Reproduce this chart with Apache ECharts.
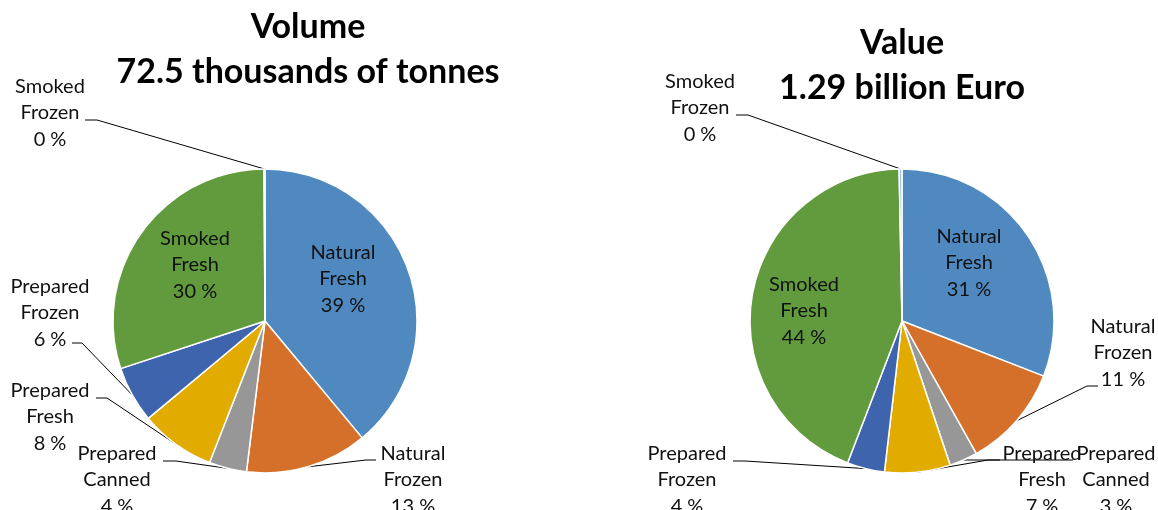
<!DOCTYPE html>
<html>
<head>
<meta charset="utf-8">
<script src="https://cdn.jsdelivr.net/npm/echarts@6/dist/echarts.min.js"></script>
<style>
html,body{margin:0;padding:0;background:#fff;}
#chart{width:1158px;height:510px;}
</style>
</head>
<body>
<div id="chart"></div>
<script>
// ---- data ----
const categories = ['Natural Fresh','Natural Frozen','Prepared Canned','Prepared Fresh','Prepared Frozen','Smoked Fresh','Smoked Frozen'];
const volumeValues = [39, 13, 4, 8, 6, 30, 0.1];
const valueValues = [31, 11, 3, 7, 4, 44, 0.3];
const volumeTitle = ['Volume', '72.5 thousands of tonnes'];
const valueTitle = ['Value', '1.29 billion Euro'];
const insideCategories = ['Natural Fresh', 'Smoked Fresh'];

// ---- styling / layout ----
const colors = ['#4F89BF','#D5702B','#979797','#E2AB00','#3E64AE','#629B3E','#9DC3E6'];
const FONT = 'Lato, "Open Sans", sans-serif';
// label centres
const volumeLabelPos = [[343,279],[413,480],[117,480],[50,417],[50,313],[195,265],[50,113]];
const valueLabelPos = [[969,263],[1123,353],[1116,480],[1042,480],[687,480],[804,311],[700,108]];
// leader-line anchor offsets relative to label centre [dx, dy, elbow]
const volumeAnchors = [null,[-37,-20,-10],[46,-19,13],[46,-19,11],[22,30,10],null,[35,7,12]];
const valueAnchors = [null,[-25,33,-11],[-43,-20,-12],[-42,-20,-12],[46,-19,12],null,[36,7,12]];

function buildData(values){
  return categories.map((c,i)=>{
    const inside = insideCategories.indexOf(c) >= 0;
    return {
      name: c,
      value: values[i],
      itemStyle: {color: colors[i]},
      label: {position: inside ? 'inside' : 'outside'},
      labelLine: {show: !inside}
    };
  });
}

function makeSeries(values, center, labelPos, anchors){
  return {
    type: 'pie',
    center: center,
    radius: 152,
    startAngle: 90,
    clockwise: true,
    percentPrecision: 0,
    avoidLabelOverlap: false,
    animation: false,
    itemStyle: {borderColor:'#fff', borderWidth:1.5},
    label: {
      show: true,
      color: '#111',
      fontFamily: FONT,
      fontSize: 20,
      lineHeight: 26.5,
      align: 'center',
      formatter: p => p.name.replace(' ', '\n') + '\n' + p.percent + ' %'
    },
    labelLine: {show:true, length: 12, length2: 12, lineStyle:{color:'#000', width:1}},
    labelLayout: function(params){
      const i = params.dataIndex;
      const pos = labelPos[i];
      const out = {x: pos[0], y: pos[1], align:'center', verticalAlign:'middle'};
      const a = anchors[i];
      const pts = params.labelLinePoints;
      if (a && pts && pts.length) {
        const start = pts[0];
        const ax = pos[0] + a[0], ay = pos[1] + a[1];
        out.labelLinePoints = [[start[0], start[1]], [ax + a[2], ay], [ax, ay]];
      }
      return out;
    },
    emphasis: {disabled: true},
    data: buildData(values)
  };
}

const chart = echarts.init(document.getElementById('chart'), null, {renderer:'canvas'});
chart.setOption({
  backgroundColor: '#fff',
  graphic: [
    {type:'text', x:308, y:5, style:{text: volumeTitle.join('\n'), font:'bold 34px ' + FONT, lineHeight:45, textAlign:'center', textVerticalAlign:'top', fill:'#000'}},
    {type:'text', x:902, y:21, style:{text: valueTitle.join('\n'), font:'bold 34px ' + FONT, lineHeight:45, textAlign:'center', textVerticalAlign:'top', fill:'#000'}}
  ],
  series: [
    makeSeries(volumeValues, [265, 321], volumeLabelPos, volumeAnchors),
    makeSeries(valueValues, [902, 321], valueLabelPos, valueAnchors)
  ]
});
</script>
</body>
</html>
